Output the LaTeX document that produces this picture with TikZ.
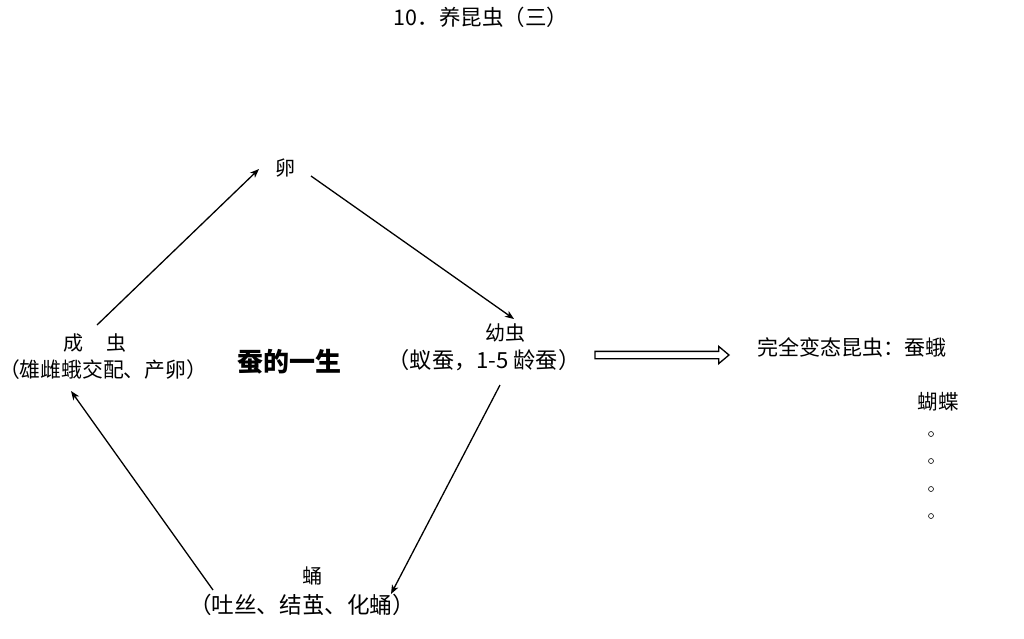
\documentclass[tikz,border=0pt]{standalone}
\usepackage{fontspec}
\setmainfont{Noto Sans CJK SC}
\usetikzlibrary{arrows.meta,shapes.arrows}
\tikzset{
  lbl/.style={inner sep=0pt, font=\fontsize{20}{24}\selectfont},
  flow/.style={line width=1.3pt, -{Stealth[length=9pt,width=7pt,inset=2.5pt]}},
  dotc/.style={circle, draw, line width=0.6pt, minimum size=5pt, inner sep=0pt},
}
\begin{document}
\begin{tikzpicture}[x=1pt,y=-1pt]
\useasboundingbox[fill=white] (0,0) rectangle (1024,638);
\node[lbl, font=\fontsize{21.5}{24}\selectfont] (title) at (481,17) {10．养昆虫（三）};
\node[lbl] (egg) at (285,168) {卵};
\node[lbl] (larva) at (505,333) {幼虫};
\node[lbl, font=\fontsize{22.2}{24}\selectfont] (larvasub) at (484,360) {（蚁蚕，1-5 龄蚕）};
\node[lbl] (adult) at (95,343) {成\hspace{23pt}虫};
\node[lbl, font=\fontsize{20.8}{24}\selectfont] (adultsub) at (103,370) {（雄雌蛾交配、产卵）};
\node[lbl, font=\fontsize{26}{30}\selectfont\bfseries] (life) at (289,362) {蚕的一生};
\node[lbl] (pupa) at (312,576) {蛹};
\node[lbl, font=\fontsize{22.6}{24}\selectfont] (pupasub) at (302,605) {（吐丝、结茧、化蛹）};
\node[lbl, font=\fontsize{21}{24}\selectfont] (complete) at (852,347) {完全变态昆虫：蚕蛾};
\node[lbl, font=\fontsize{20.5}{24}\selectfont] (butterfly) at (938,402) {蝴蝶};
\foreach \i/\yy in {1/434,2/461,3/489,4/516}{
  \node[dotc] (d\i) at (931,\yy) {};
}
\coordinate (a1s) at (97,325);
\coordinate (a1e) at (259,169);
\coordinate (a2s) at (311,176);
\coordinate (a2e) at (514,319);
\coordinate (a3s) at (500,385);
\coordinate (a3e) at (391,594);
\coordinate (a4s) at (213,590);
\coordinate (a4e) at (71,391);
\draw[flow] (a1s) -- (a1e);
\draw[flow] (a2s) -- (a2e);
\draw[flow] (a3s) -- (a3e);
\draw[flow] (a4s) -- (a4e);
\node[single arrow, draw, line width=1.3pt, fill=white, minimum height=134pt,
      inner sep=3pt, single arrow head extend=5pt, single arrow tip angle=80,
      anchor=tip] (big) at (730,355) {};
\end{tikzpicture}
\end{document}
